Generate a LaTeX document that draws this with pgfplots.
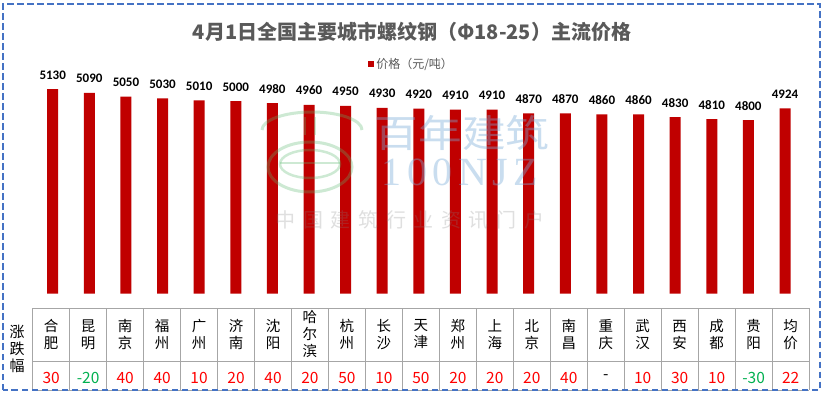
\documentclass[border=0pt]{standalone}
\usepackage{fontspec}
\usepackage{pgfplots}
\pgfplotsset{compat=1.18}
\setmainfont{Carlito}
\newfontfamily\cjk{Noto Sans CJK SC}
\newfontfamily\wmfont{Liberation Serif}[LetterSpace=14]
\newfontfamily\wmcjk{Noto Sans CJK SC}[LetterSpace=38]
\definecolor{barred}{HTML}{C00000}
\definecolor{titlegray}{HTML}{595959}
\definecolor{gridgray}{HTML}{A6A6A6}
\definecolor{borderblue}{HTML}{4472C4}
\definecolor{chgred}{HTML}{FF0000}
\definecolor{chggreen}{HTML}{00B050}
\definecolor{wmblue}{RGB}{120,170,215}
\definecolor{wmgreen}{RGB}{90,185,110}
\pgfplotstableread{
x price
0 5130
1 5090
2 5050
3 5030
4 5010
5 5000
6 4980
7 4960
8 4950
9 4930
10 4920
11 4910
12 4910
13 4870
14 4870
15 4860
16 4860
17 4830
18 4810
19 4800
20 4924
}\pricetable
\begin{document}
\begin{tikzpicture}
\useasboundingbox (0,0) rectangle (829pt,396pt);
\fill[white] (0,0) rectangle (829pt,396pt);
% title
\node[font={\cjk\bfseries\fontsize{20}{24}\selectfont}, text=titlegray] at (412pt,364pt) {4月1日全国主要城市螺纹钢（Φ18-25）主流价格};
\begin{axis}[
  at={(34.4pt,102.3pt)}, anchor=south west,
  scale only axis, width=768.9pt, height=248.8pt,
  xmin=-0.5, xmax=20.5, ymin=2950, ymax=5600,
  hide axis,
  ybar, bar width=11pt,
  nodes near coords,
  /pgf/number format/1000 sep={},
  /pgf/number format/assume math mode=true,
  every node near coord/.append style={font={\bfseries\fontsize{13}{15}\selectfont}, anchor=south, inner sep=0pt, yshift=9.7pt, text=black},
  legend style={at={(0.432,0.923)}, anchor=west, draw=none, fill=none, font={\cjk\fontsize{12}{14}\selectfont}, text=titlegray, inner sep=1pt},
  legend image code/.code={\fill[barred] (0pt,-3pt) rectangle (6.5pt,3.5pt);},
]
\addplot[fill=barred, draw=none, bar shift=0pt] table[x=x, y=price] {\pricetable};
\addlegendentry{价格（元/吨）}
\end{axis}
% watermark
\begin{scope}[opacity=0.3]
\draw[wmgreen, line width=3pt] (262pt,266pt) arc[start angle=180, end angle=0, x radius=50pt, y radius=18pt];
\draw[wmgreen, line width=2.5pt] (305pt,279pt) -- (305pt,261pt) (315pt,279pt) -- (315pt,261pt);
\draw[wmgreen, line width=3pt] (310pt,229pt) ellipse[x radius=42pt, y radius=25pt];
\draw[wmgreen, line width=2.5pt] (310pt,232pt) ellipse[x radius=30pt, y radius=14pt];
\draw[wmgreen, line width=2.5pt] (280pt,233pt) -- (340pt,233pt);
\end{scope}
\node[opacity=0.4, text=wmblue, font={\cjk\fontsize{38}{40}\selectfont}, xscale=1.15] at (462pt,263pt) {百年建筑};
\node[opacity=0.4, text=wmblue, font={\wmfont\fontsize{40}{42}\selectfont}] at (460pt,224pt) {100NJZ};
\node[opacity=0.25, text=gray, font={\wmcjk\fontsize{20}{22}\selectfont}] at (410pt,176pt) {中国建筑行业资讯门户};
% table
\draw[gridgray, line width=0.9pt] (32.7pt,87.7pt) -- (809.1pt,87.7pt);
\draw[gridgray, line width=0.9pt] (32.7pt,35pt) -- (809.1pt,35pt);
\draw[gridgray, line width=0.9pt] (32.7pt,6pt) -- (809.1pt,6pt);
\foreach \i in {0,...,21} {
  \draw[gridgray, line width=0.9pt] ({(32.7+36.97*\i)*1pt},87.7pt) -- ({(32.7+36.97*\i)*1pt},6pt);
}
\foreach \c [count=\i from 0] in {合\\肥,昆\\明,南\\京,福\\州,广\\州,济\\南,沈\\阳,哈\\尔\\滨,杭\\州,长\\沙,天\\津,郑\\州,上\\海,北\\京,南\\昌,重\\庆,武\\汉,西\\安,成\\都,贵\\阳,均\\价} {
  \node[align=center, font={\cjk\fontsize{14.5}{17}\selectfont}, inner sep=0pt] at ({(51.19+36.97*\i)*1pt},61.5pt) {\c};
}
\foreach \v/\col [count=\i from 0] in {30/chgred,-20/chggreen,40/chgred,40/chgred,10/chgred,20/chgred,40/chgred,20/chgred,50/chgred,10/chgred,50/chgred,20/chgred,20/chgred,20/chgred,40/chgred,-/black,10/chgred,30/chgred,10/chgred,-30/chggreen,22/chgred} {
  \node[font={\cjk\fontsize{15.5}{17}\selectfont}, text=\col, inner sep=0pt] at ({(51.19+36.97*\i)*1pt},18.5pt) {\v};
}
\node[align=center, font={\cjk\fontsize{15}{17}\selectfont}, inner sep=0pt] at (17pt,47pt) {涨\\跌\\幅};
% border
\draw[borderblue, line width=2pt, dash pattern=on 6.5pt off 3.5pt] (3pt,6pt) rectangle (819.5pt,392pt);
\end{tikzpicture}
\end{document}
